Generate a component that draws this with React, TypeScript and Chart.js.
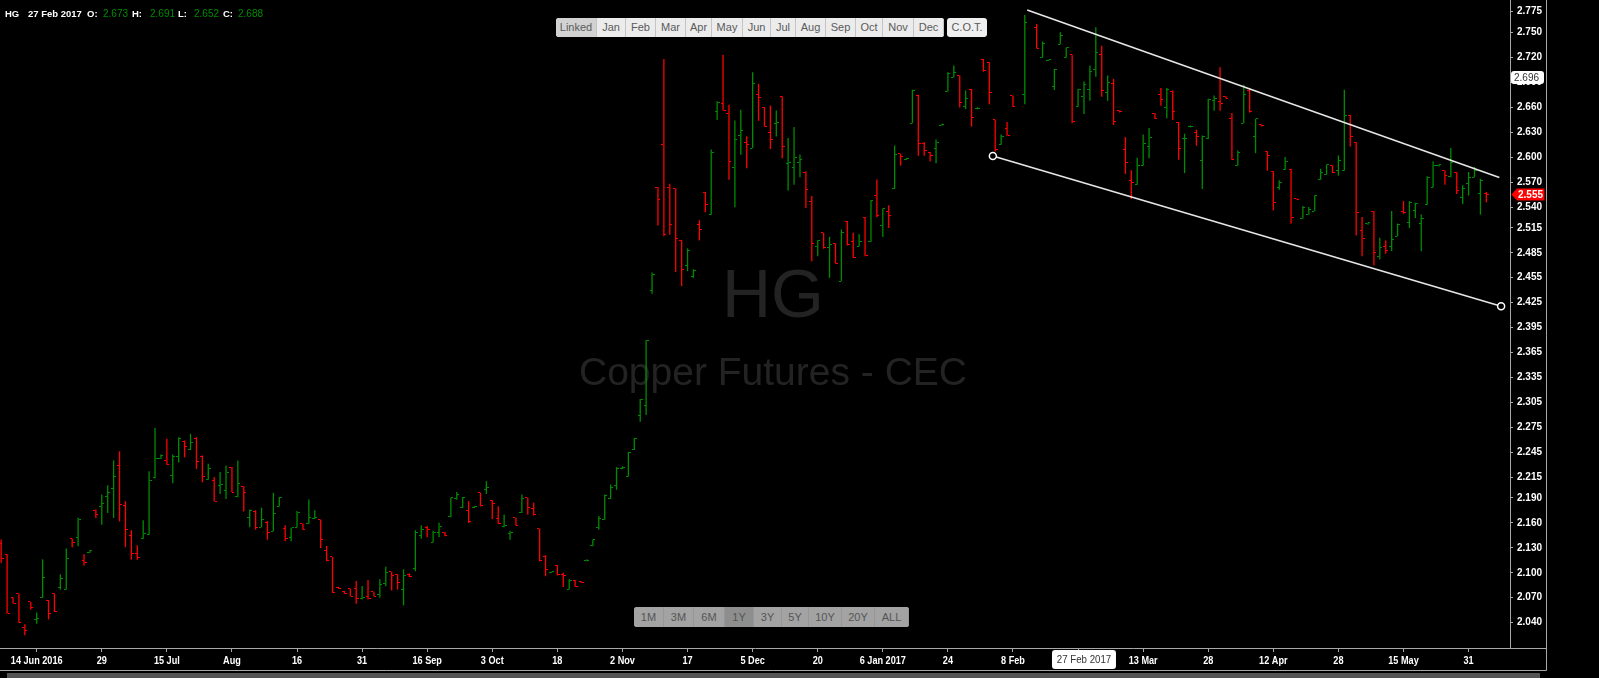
import React, { useEffect, useRef } from "react";
import { Chart, registerables } from "chart.js";
Chart.register(...registerables);

const dates: string[] = [
  "2016-06-06","2016-06-07","2016-06-08","2016-06-09","2016-06-10","2016-06-13","2016-06-14","2016-06-15","2016-06-16","2016-06-17","2016-06-20","2016-06-21","2016-06-22","2016-06-23","2016-06-24","2016-06-27","2016-06-28","2016-06-29","2016-06-30",
  "2016-07-01","2016-07-05","2016-07-06","2016-07-07","2016-07-08","2016-07-11","2016-07-12","2016-07-13","2016-07-14","2016-07-15","2016-07-18","2016-07-19","2016-07-20","2016-07-21","2016-07-22","2016-07-25","2016-07-26","2016-07-27","2016-07-28","2016-07-29",
  "2016-08-01","2016-08-02","2016-08-03","2016-08-04","2016-08-05","2016-08-08","2016-08-09","2016-08-10","2016-08-11","2016-08-12","2016-08-15","2016-08-16","2016-08-17","2016-08-18","2016-08-19","2016-08-22","2016-08-23","2016-08-24","2016-08-25","2016-08-26","2016-08-29","2016-08-30","2016-08-31",
  "2016-09-01","2016-09-02","2016-09-06","2016-09-07","2016-09-08","2016-09-09","2016-09-12","2016-09-13","2016-09-14","2016-09-15","2016-09-16","2016-09-19","2016-09-20","2016-09-21","2016-09-22","2016-09-23","2016-09-26","2016-09-27","2016-09-28","2016-09-29","2016-09-30",
  "2016-10-03","2016-10-04","2016-10-05","2016-10-06","2016-10-07","2016-10-10","2016-10-11","2016-10-12","2016-10-13","2016-10-14","2016-10-17","2016-10-18","2016-10-19","2016-10-20","2016-10-21","2016-10-24","2016-10-25","2016-10-26","2016-10-27","2016-10-28","2016-10-31",
  "2016-11-01","2016-11-02","2016-11-03","2016-11-04","2016-11-07","2016-11-08","2016-11-09","2016-11-10","2016-11-11","2016-11-14","2016-11-15","2016-11-16","2016-11-17","2016-11-18","2016-11-21","2016-11-22","2016-11-23","2016-11-25","2016-11-28","2016-11-29","2016-11-30",
  "2016-12-01","2016-12-02","2016-12-05","2016-12-06","2016-12-07","2016-12-08","2016-12-09","2016-12-12","2016-12-13","2016-12-14","2016-12-15","2016-12-16","2016-12-19","2016-12-20","2016-12-21","2016-12-22","2016-12-23","2016-12-27","2016-12-28","2016-12-29","2016-12-30",
  "2017-01-03","2017-01-04","2017-01-05","2017-01-06","2017-01-09","2017-01-10","2017-01-11","2017-01-12","2017-01-13","2017-01-17","2017-01-18","2017-01-19","2017-01-20","2017-01-23","2017-01-24","2017-01-25","2017-01-26","2017-01-27","2017-01-30","2017-01-31",
  "2017-02-01","2017-02-02","2017-02-03","2017-02-06","2017-02-07","2017-02-08","2017-02-09","2017-02-10","2017-02-13","2017-02-14","2017-02-15","2017-02-16","2017-02-17","2017-02-21","2017-02-22","2017-02-23","2017-02-24","2017-02-27","2017-02-28",
  "2017-03-01","2017-03-02","2017-03-03","2017-03-06","2017-03-07","2017-03-08","2017-03-09","2017-03-10","2017-03-13","2017-03-14","2017-03-15","2017-03-16","2017-03-17","2017-03-20","2017-03-21","2017-03-22","2017-03-23","2017-03-24","2017-03-27","2017-03-28","2017-03-29","2017-03-30","2017-03-31",
  "2017-04-03","2017-04-04","2017-04-05","2017-04-06","2017-04-07","2017-04-10","2017-04-11","2017-04-12","2017-04-13","2017-04-17","2017-04-18","2017-04-19","2017-04-20","2017-04-21","2017-04-24","2017-04-25","2017-04-26","2017-04-27","2017-04-28",
  "2017-05-01","2017-05-02","2017-05-03","2017-05-04","2017-05-05","2017-05-08","2017-05-09","2017-05-10","2017-05-11","2017-05-12","2017-05-15","2017-05-16","2017-05-17","2017-05-18","2017-05-19","2017-05-22","2017-05-23","2017-05-24","2017-05-25","2017-05-26","2017-05-30","2017-05-31",
  "2017-06-01","2017-06-02","2017-06-05",
];

const opens: (number | null)[] = [
  2.135,2.122,2.070,2.075,2.034,2.065,2.044,2.070,2.067,2.075,2.082,2.080,2.141,2.142,2.115,2.124,2.175,2.180,2.192,2.201,
  2.229,2.181,2.145,2.123,2.141,2.146,2.215,2.237,2.235,2.217,2.240,2.258,2.248,2.262,2.240,2.212,2.211,2.205,2.199,2.227,
  2.192,2.204,2.166,2.174,2.155,2.161,2.150,2.180,2.153,2.142,2.155,2.159,2.159,2.165,2.164,2.127,2.119,2.082,2.077,2.081,
  2.081,2.069,2.072,2.077,2.074,2.087,2.101,2.098,2.080,2.098,2.105,2.145,2.154,2.137,2.149,2.148,2.168,2.189,2.179,2.175,
  2.178,2.196,2.200,2.187,2.165,2.156,2.147,2.166,2.172,2.190,2.177,2.153,2.119,2.100,2.109,2.098,2.080,2.091,2.089,2.115,
  2.133,2.154,2.164,2.189,2.205,2.225,2.216,2.248,2.289,2.301,2.440,2.563,2.615,2.564,2.562,2.500,2.470,2.456,2.519,2.557,
  2.531,2.655,2.664,2.652,2.588,2.626,2.618,2.611,2.676,2.660,2.630,2.641,2.673,2.592,2.587,2.593,2.582,2.547,2.493,2.509,
  2.491,2.496,2.451,2.523,2.499,2.493,2.528,2.498,2.554,2.518,2.535,2.562,2.604,2.597,2.641,2.674,2.617,2.606,2.611,2.638,
  2.679,2.696,2.698,2.661,2.681,2.658,2.718,2.714,2.645,2.615,2.635,2.674,null,2.676,null,2.756,2.720,2.716,2.685,2.736,
  2.720,2.723,2.661,2.673,2.681,2.706,2.724,2.678,2.689,2.656,2.609,2.572,2.567,2.590,2.613,2.653,2.676,2.660,2.679,2.642,
  2.622,2.637,2.630,2.596,2.623,2.668,2.667,2.673,2.647,2.590,2.641,2.680,2.625,2.639,2.607,2.583,2.564,2.585,2.585,2.550,
  2.526,2.531,2.535,2.573,2.579,2.590,2.584,2.584,2.650,2.618,2.512,2.520,2.535,2.481,2.493,2.492,2.505,2.535,2.522,2.536,
  2.520,2.543,2.564,2.590,2.584,2.577,2.581,2.552,2.568,2.576,2.556,2.556,
];
const highs: (number | null)[] = [
  2.140,2.122,2.070,2.075,2.038,2.065,2.052,2.116,2.067,2.075,2.098,2.129,2.141,2.166,2.122,2.127,2.176,2.194,2.205,2.235,
  2.246,2.186,2.151,2.133,2.163,2.222,2.274,2.242,2.261,2.242,2.263,2.259,2.267,2.263,2.241,2.231,2.215,2.221,2.229,2.227,
  2.235,2.204,2.176,2.175,2.178,2.162,2.196,2.191,2.157,2.154,2.174,2.159,2.188,2.175,2.164,2.132,2.119,2.083,2.078,2.081,
  2.090,2.084,2.091,2.077,2.092,2.107,2.101,2.098,2.104,2.099,2.151,2.157,2.156,2.150,2.160,2.149,2.190,2.197,2.191,2.186,
  2.180,2.196,2.210,2.187,2.180,2.170,2.150,2.166,2.194,2.190,2.184,2.153,2.121,2.101,2.109,2.100,2.092,2.091,2.090,2.116,
  2.140,2.168,2.194,2.206,2.227,2.228,2.245,2.262,2.309,2.380,2.461,2.564,2.718,2.568,2.562,2.500,2.490,2.465,2.524,2.558,
  2.609,2.667,2.723,2.663,2.644,2.657,2.625,2.702,2.688,2.660,2.662,2.656,2.673,2.623,2.636,2.603,2.583,2.553,2.500,2.509,
  2.504,2.496,2.513,2.523,2.509,2.507,2.528,2.548,2.573,2.538,2.542,2.614,2.604,2.599,2.681,2.675,2.618,2.606,2.621,2.640,
  2.702,2.710,2.698,2.680,2.682,2.660,2.718,2.714,2.645,2.627,2.642,2.674,null,2.771,null,2.760,2.739,2.717,2.706,2.750,
  2.732,2.723,2.682,2.691,2.710,2.756,2.734,2.698,2.694,2.656,2.624,2.584,2.599,2.627,2.635,2.653,2.683,2.683,2.680,2.642,
  2.628,2.638,2.633,2.626,2.670,2.674,2.708,2.673,2.653,2.608,2.687,2.683,2.646,2.639,2.607,2.583,2.572,2.600,2.586,2.550,
  2.541,2.540,2.554,2.586,2.591,2.590,2.602,2.681,2.651,2.618,2.528,2.521,2.535,2.503,2.500,2.535,2.520,2.547,2.547,2.545,
  2.531,2.577,2.595,2.591,2.584,2.611,2.582,2.566,2.582,2.588,2.574,2.558,
];
const lows: (number | null)[] = [
  2.112,2.051,2.063,2.040,2.025,2.056,2.039,2.070,2.044,2.053,2.080,2.080,2.131,2.132,2.109,2.124,2.166,2.158,2.172,2.166,
  2.162,2.131,2.116,2.116,2.141,2.146,2.214,2.237,2.230,2.208,2.233,2.239,2.248,2.225,2.209,2.212,2.186,2.195,2.189,2.197,
  2.191,2.174,2.155,2.152,2.155,2.140,2.150,2.180,2.138,2.138,2.155,2.152,2.159,2.165,2.130,2.114,2.076,2.081,2.075,2.072,
  2.063,2.068,2.068,2.072,2.070,2.084,2.079,2.080,2.061,2.095,2.102,2.141,2.143,2.137,2.143,2.144,2.167,2.188,2.178,2.160,
  2.178,2.180,2.195,2.165,2.159,2.155,2.140,2.157,2.172,2.170,2.169,2.114,2.096,2.100,2.097,2.083,2.080,2.083,2.088,2.114,
  2.132,2.152,2.164,2.189,2.200,2.225,2.216,2.248,2.282,2.290,2.436,2.518,2.505,2.507,2.462,2.445,2.463,2.455,2.500,2.534,
  2.531,2.645,2.656,2.573,2.540,2.603,2.587,2.611,2.644,2.637,2.610,2.625,2.599,2.560,2.567,2.576,2.539,2.475,2.481,2.490,
  2.455,2.472,2.451,2.494,2.479,2.493,2.481,2.498,2.528,2.504,2.515,2.562,2.590,2.597,2.641,2.602,2.602,2.595,2.593,2.638,
  2.679,2.696,2.660,2.658,2.637,2.658,2.703,2.664,2.607,2.615,2.626,2.661,null,2.664,null,2.731,2.720,2.716,2.681,2.736,
  2.720,2.641,2.661,2.652,2.668,2.697,2.673,2.668,2.639,2.654,2.580,2.550,2.567,2.590,2.599,2.646,2.662,2.647,2.645,2.597,
  2.581,2.636,2.614,2.562,2.622,2.656,2.656,2.671,2.597,2.590,2.641,2.654,2.605,2.637,2.584,2.536,2.561,2.585,2.520,2.549,
  2.526,2.531,2.535,2.573,2.579,2.581,2.578,2.584,2.613,2.506,2.481,2.519,2.470,2.477,2.484,2.487,2.505,2.532,2.515,2.527,
  2.487,2.543,2.564,2.589,2.567,2.576,2.556,2.544,2.554,2.576,2.531,2.546,
];
const closes: (number | null)[] = [
  2.117,2.051,2.063,2.040,2.031,2.058,2.045,2.094,2.051,2.053,2.093,2.117,2.136,2.164,2.112,2.127,2.170,2.183,2.197,2.216,
  2.182,2.152,2.123,2.118,2.147,2.211,2.238,2.241,2.230,2.240,2.261,2.252,2.257,2.234,2.216,2.225,2.186,2.206,2.221,2.197,
  2.208,2.197,2.175,2.154,2.164,2.149,2.171,2.190,2.141,2.154,2.172,2.152,2.167,2.166,2.140,2.115,2.076,2.081,2.075,2.072,
  2.069,2.070,2.069,2.072,2.086,2.100,2.097,2.088,2.097,2.095,2.148,2.152,2.152,2.149,2.156,2.145,2.190,2.194,2.190,2.162,
  2.180,2.181,2.203,2.183,2.159,2.157,2.149,2.157,2.189,2.178,2.170,2.115,2.104,2.101,2.098,2.097,2.091,2.084,2.088,2.115,
  2.140,2.165,2.193,2.202,2.225,2.227,2.245,2.262,2.308,2.380,2.459,2.549,2.507,2.519,2.502,2.465,2.488,2.464,2.513,2.543,
  2.606,2.666,2.656,2.595,2.621,2.632,2.615,2.689,2.672,2.637,2.621,2.642,2.613,2.594,2.600,2.597,2.561,2.496,2.500,2.491,
  2.495,2.472,2.509,2.495,2.479,2.499,2.482,2.548,2.530,2.538,2.530,2.603,2.601,2.598,2.680,2.617,2.608,2.602,2.618,2.639,
  2.701,2.702,2.666,2.670,2.648,2.659,2.704,2.678,2.609,2.625,2.626,2.661,null,2.762,null,2.731,2.737,2.717,2.706,2.746,
  2.732,2.643,2.681,2.688,2.703,2.726,2.680,2.690,2.643,2.655,2.593,2.569,2.590,2.617,2.624,2.646,2.669,2.681,2.655,2.611,
  2.623,2.637,2.625,2.625,2.669,2.670,2.665,2.671,2.597,2.606,2.676,2.655,2.646,2.638,2.602,2.545,2.569,2.595,2.528,2.549,
  2.540,2.537,2.554,2.581,2.591,2.581,2.596,2.650,2.625,2.534,2.502,2.521,2.485,2.491,2.488,2.501,2.519,2.533,2.545,2.544,
  2.526,2.576,2.590,2.591,2.578,2.593,2.560,2.562,2.576,2.584,2.572,2.555,
];

const tickDates = ["2016-06-14","2016-06-29","2016-07-15","2016-08-01","2016-08-16","2016-08-31","2016-09-16","2016-10-03","2016-10-18","2016-11-02","2016-11-17","2016-12-05","2016-12-20","2017-01-06","2017-01-24","2017-02-08","2017-02-24","2017-03-13","2017-03-28","2017-04-12","2017-04-28","2017-05-15","2017-05-31"];
const tickLabels = ["14 Jun 2016","29","15 Jul","Aug","16","31","16 Sep","3 Oct","18","2 Nov","17","5 Dec","20","6 Jan 2017","24","8 Feb","24","13 Mar","28","12 Apr","28","15 May","31"];
const yTicks = [2.775,2.75,2.72,2.69,2.66,2.63,2.6,2.57,2.54,2.515,2.485,2.455,2.425,2.395,2.365,2.335,2.305,2.275,2.245,2.215,2.19,2.16,2.13,2.1,2.07,2.04];

// channel lines: [bar index, price]
const upperChannel = [{ x: 173.4, y: 2.777 }, { x: 253.2, y: 2.5755 }];
const lowerChannel = [{ x: 167.6, y: 2.6013 }, { x: 253.5, y: 2.4207 }];

const crossDate = "2017-02-27";
const crossDateLabel = "27 Feb 2017";
const crossPrice = 2.696;
const header = { sym: "HG", date: "27 Feb 2017", o: "2.673", h: "2.691", l: "2.652", c: "2.688" };
const monthButtons = ["Linked","Jan","Feb","Mar","Apr","May","Jun","Jul","Aug","Sep","Oct","Nov","Dec"];
const monthWidths = [41,29,30,30,26,31,28,25,30,30,27,31,30];
const rangeButtons = ["1M","3M","6M","1Y","3Y","5Y","10Y","20Y","ALL"];
const rangeWidths = [30,30,31,29,28,27,33,33,34];

const UP = "#008c00";
const DOWN = "#ff0000";
const AXIS = "#a8a8a8";
const SANS = "Arial, 'Liberation Sans', sans-serif";

function tickImage(color: string, side: "open" | "close") {
  const c = document.createElement("canvas");
  c.width = 5;
  c.height = 1;
  const g = c.getContext("2d")!;
  g.fillStyle = color;
  g.fillRect(side === "open" ? 0 : 3, 0, 2, 1);
  return c;
}

function narrowText(ctx: CanvasRenderingContext2D, text: string, x: number, y: number, sx: number) {
  ctx.save();
  ctx.translate(x, y);
  ctx.scale(sx, 1);
  ctx.fillText(text, 0, 0);
  ctx.restore();
}

export default function App() {
  const ref = useRef<HTMLCanvasElement>(null);
  useEffect(() => {
    if (!ref.current) return;
    const idx = dates.map((_, i) => i).filter((i) => opens[i] != null);
    const col = idx.map((i) => ((closes[i] as number) >= (opens[i] as number) ? UP : DOWN));
    const imgs = {
      ou: tickImage(UP, "open"), od: tickImage(DOWN, "open"),
      cu: tickImage(UP, "close"), cd: tickImage(DOWN, "close"),
    };
    const tickIdx = tickDates.map((d) => dates.indexOf(d));
    const labelAt: Record<number, string> = {};
    tickIdx.forEach((v, k) => (labelAt[v] = tickLabels[k]));
    const crossIdx = dates.indexOf(crossDate);
    const lastIdx = idx[idx.length - 1];

    const overlay = {
      id: "overlay",
      beforeDraw(chart: any) {
        chart.ctx.imageSmoothingEnabled = false;
      },
      beforeDatasetsDraw(chart: any) {
        const ctx = chart.ctx;
        const cx = 773;
        ctx.save();
        ctx.fillStyle = "#232323";
        ctx.textAlign = "center";
        ctx.textBaseline = "alphabetic";
        ctx.font = "68px " + SANS;
        ctx.fillText(header.sym, cx, 317);
        ctx.font = "39px " + SANS;
        ctx.fillText("Copper Futures - CEC", cx, 385);
        ctx.restore();
        ctx.imageSmoothingEnabled = false;
      },
      afterDraw(chart: any) {
        const ctx = chart.ctx;
        const xs = chart.scales.x, ys = chart.scales.y;
        const a = chart.chartArea;
        const panelR = ys.right, panelB = xs.bottom;
        ctx.save();
        ctx.strokeStyle = AXIS;
        ctx.lineWidth = 1;
        ctx.beginPath();
        ctx.moveTo(a.right, a.bottom + 0.5);
        ctx.lineTo(panelR, a.bottom + 0.5);
        ctx.moveTo(panelR + 0.5, 0);
        ctx.lineTo(panelR + 0.5, panelB + 0.5);
        ctx.moveTo(0, panelB + 0.5);
        ctx.lineTo(panelR + 0.5, panelB + 0.5);
        ctx.stroke();

        // x tick labels (narrow bold face)
        ctx.fillStyle = "#ffffff";
        ctx.font = "bold 11px " + SANS;
        ctx.textAlign = "center";
        ctx.textBaseline = "middle";
        xs.ticks.forEach((t: any) => {
          const lbl = labelAt[t.value];
          if (lbl) narrowText(ctx, lbl, xs.getPixelForValue(t.value), a.bottom + 13, 0.83);
        });

        // crosshair date label
        const px = xs.getPixelForValue(crossIdx);
        ctx.fillStyle = "#ffffff";
        ctx.beginPath();
        (ctx as any).roundRect(px - 32, a.bottom + 2, 64, 19, 3);
        ctx.fill();
        ctx.fillStyle = "#333";
        ctx.font = "11px " + SANS;
        narrowText(ctx, crossDateLabel, px, a.bottom + 12, 0.88);

        // crosshair price label
        const py = ys.getPixelForValue(crossPrice);
        ctx.fillStyle = "#ffffff";
        ctx.beginPath();
        (ctx as any).roundRect(a.right + 1, py - 6.5, 33, 13, 3);
        ctx.fill();
        ctx.fillStyle = "#333";
        ctx.font = "10px " + SANS;
        ctx.textAlign = "left";
        ctx.fillText(crossPrice.toFixed(3), a.right + 4, py + 0.5);

        // last price label
        const lp = closes[lastIdx] as number;
        const ly = ys.getPixelForValue(lp);
        ctx.fillStyle = "#ff0000";
        ctx.beginPath();
        ctx.moveTo(a.right + 1.5, ly);
        ctx.lineTo(a.right + 7, ly - 6);
        ctx.lineTo(a.right + 34.5, ly - 6);
        ctx.lineTo(a.right + 34.5, ly + 6);
        ctx.lineTo(a.right + 7, ly + 6);
        ctx.closePath();
        ctx.fill();
        ctx.fillStyle = "#fff";
        ctx.font = "bold 10px " + SANS;
        ctx.fillText(lp.toFixed(3), a.right + 8, ly + 0.5);
        ctx.restore();
      },
    };

    const chart = new Chart(ref.current, {
      type: "bar",
      data: {
        datasets: [
          {
            type: "line",
            data: upperChannel,
            borderColor: "#e6e6e6",
            borderWidth: 1.6,
            pointRadius: 0,
            order: 1,
          } as any,
          {
            type: "line",
            data: lowerChannel,
            borderColor: "#e6e6e6",
            borderWidth: 1.6,
            pointRadius: 3.5,
            pointBackgroundColor: "#000",
            pointBorderColor: "#ffffff",
            pointBorderWidth: 1.5,
            order: 1,
          } as any,
          {
            type: "scatter",
            data: idx.map((i) => ({ x: i, y: opens[i] })),
            pointStyle: idx.map((i, k) => (col[k] === UP ? imgs.ou : imgs.od)),
            pointRadius: 3,
            order: 2,
          } as any,
          {
            type: "scatter",
            data: idx.map((i) => ({ x: i, y: closes[i] })),
            pointStyle: idx.map((i, k) => (col[k] === UP ? imgs.cu : imgs.cd)),
            pointRadius: 3,
            order: 2,
          } as any,
          {
            type: "bar",
            data: idx.map((i) => ({ x: i, y: [lows[i], highs[i]] })),
            backgroundColor: col,
            barThickness: 1,
            inflateAmount: 0.15,
            borderWidth: 0,
            order: 3,
          } as any,
        ],
      },
      options: {
        animation: false,
        responsive: false,
        events: [],
        layout: { autoPadding: false, padding: { left: 0, top: 0, right: 53, bottom: 8 } },
        plugins: { legend: { display: false }, tooltip: { enabled: false } },
        scales: {
          x: {
            type: "linear",
            min: -0.2,
            max: 255.0,
            offset: false,
            grid: { display: true, drawOnChartArea: false, drawTicks: true, tickLength: 4, color: AXIS, offset: false },
            border: { display: true, color: AXIS },
            ticks: {
              display: false,
              autoSkip: false,
              maxRotation: 0,
              minRotation: 0,
              callback: (v: any) => labelAt[v] ?? "",
            },
            afterBuildTicks: (s: any) => {
              s.ticks = tickIdx.map((v) => ({ value: v }));
            },
            afterFit: (s: any) => {
              s.height = 22;
              s.paddingLeft = 0;
              s.paddingRight = 0;
            },
          },
          y: {
            type: "linear",
            position: "right",
            min: 2.0095,
            max: 2.7891,
            grid: { display: true, drawOnChartArea: false, tickLength: 3, color: AXIS },
            border: { display: true, color: AXIS },
            ticks: {
              color: "#ffffff",
              font: { size: 10, weight: "bold", family: SANS },
              padding: 4,
              autoSkip: false,
              callback: (v: any) => Number(v).toFixed(3),
            },
            afterBuildTicks: (s: any) => {
              s.ticks = yTicks.map((v) => ({ value: v }));
            },
            afterFit: (s: any) => {
              s.width = 36;
              s.paddingTop = 0;
              s.paddingBottom = 0;
            },
          },
        },
      } as any,
      plugins: [overlay],
    });
    return () => chart.destroy();
  }, []);

  let mx = 0;
  let rx = 0;
  return (
    <div style={{ position: "fixed", left: 0, top: 0, width: 1599, height: 678, background: "#000", overflow: "hidden", fontFamily: SANS }}>
      <canvas ref={ref} width={1599} height={678} style={{ position: "absolute", left: 0, top: 0, width: 1599, height: 678 }} />
      <div style={{ position: "absolute", left: 5, top: 7, height: 14, fontSize: 9.5, color: "#fff", whiteSpace: "nowrap", lineHeight: "14px" }}>
        <span style={{ position: "absolute", left: 0, fontWeight: "bold" }}>{header.sym}</span>
        <span style={{ position: "absolute", left: 23, fontWeight: "bold" }}>{header.date}</span>
        <span style={{ position: "absolute", left: 82, fontWeight: "bold" }}>O:</span>
        <span style={{ position: "absolute", left: 98, color: UP, fontSize: 10 }}>{header.o}</span>
        <span style={{ position: "absolute", left: 127, fontWeight: "bold" }}>H:</span>
        <span style={{ position: "absolute", left: 145, color: UP, fontSize: 10 }}>{header.h}</span>
        <span style={{ position: "absolute", left: 173, fontWeight: "bold" }}>L:</span>
        <span style={{ position: "absolute", left: 189, color: UP, fontSize: 10 }}>{header.l}</span>
        <span style={{ position: "absolute", left: 218, fontWeight: "bold" }}>C:</span>
        <span style={{ position: "absolute", left: 233, color: UP, fontSize: 10 }}>{header.c}</span>
      </div>
      <div style={{ position: "absolute", left: 556, top: 18, width: 388, height: 19, borderRadius: 3, overflow: "hidden", background: "#ececec" }}>
        {monthButtons.map((b, k) => {
          const l = mx;
          mx += monthWidths[k];
          return (
            <div key={b} style={{ position: "absolute", left: l, top: 0, width: monthWidths[k] - 1, height: 19, lineHeight: "19px", textAlign: "center", fontSize: 11, color: "#5a5a5a", background: k === 0 ? "#d2d2d2" : "#ececec", borderRight: "1px solid #c4c4c4" }}>{b}</div>
          );
        })}
      </div>
      <div style={{ position: "absolute", left: 947, top: 18, width: 40, height: 19, borderRadius: 3, background: "#efefef", lineHeight: "19px", textAlign: "center", fontSize: 11, color: "#5a5a5a" }}>C.O.T.</div>
      <div style={{ position: "absolute", left: 634, top: 607, width: 275, height: 20, borderRadius: 3, overflow: "hidden", background: "#a3a3a3" }}>
        {rangeButtons.map((b, k) => {
          const l = rx;
          rx += rangeWidths[k];
          return (
            <div key={b} style={{ position: "absolute", left: l, top: 0, width: rangeWidths[k] - 1, height: 20, lineHeight: "20px", textAlign: "center", fontSize: 11, color: "#555", background: k === 3 ? "#8e8e8e" : "#a3a3a3", borderRight: "1px solid #969696" }}>{b}</div>
          );
        })}
      </div>
      <div style={{ position: "absolute", left: 7, top: 673, width: 1533, height: 5, background: "#555" }} />
    </div>
  );
}
